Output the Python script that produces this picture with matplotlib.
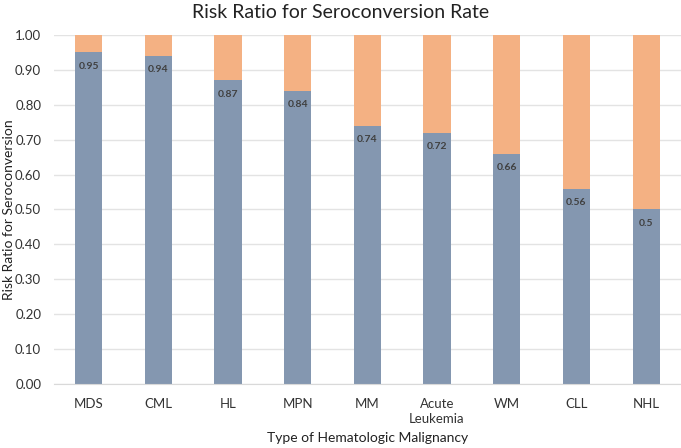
import matplotlib
matplotlib.use("Agg")
import matplotlib.pyplot as plt
from matplotlib.ticker import FormatStrFormatter, MultipleLocator

categories = ["MDS", "CML", "HL", "MPN", "MM", "Acute\nLeukemia", "WM", "CLL", "NHL"]
seroconversion = [0.95, 0.94, 0.87, 0.84, 0.74, 0.72, 0.66, 0.56, 0.5]
remainder = [round(1 - v, 2) for v in seroconversion]

plt.rcParams['font.family'] = ['Lato', 'DejaVu Sans']

fig = plt.figure(figsize=(6.81, 4.48), dpi=100)
ax = fig.add_axes([0.0788, 0.1429, 0.9212, 0.779])

x = list(range(len(categories)))
blue = "#8497B0"
orange = "#F4B183"
ax.bar(x, seroconversion, width=0.39, color=blue, zorder=3)
ax.bar(x, remainder, width=0.39, bottom=seroconversion, color=orange, zorder=3)

for xi, v in zip(x, seroconversion):
    ax.annotate(str(v), (xi, v), xytext=(0, -10), textcoords="offset points",
                ha="center", va="center", fontsize=7.5, fontweight="bold", color="#404040", zorder=4)

ax.set_xlim(-0.5, len(categories) - 0.5)
ax.set_ylim(0, 1.0)
ax.yaxis.set_major_locator(MultipleLocator(0.1))
ax.yaxis.set_major_formatter(FormatStrFormatter("%.2f"))
ax.grid(axis="y", color="#e3e3e3", linewidth=1, zorder=0)
ax.set_xticks(x)
ax.set_xticklabels(categories, fontsize=9.5, color="#333333", linespacing=1.35)
ax.tick_params(axis="y", labelsize=9.5, colors="#333333", length=0, pad=9)
ax.tick_params(axis="x", length=0, pad=10)
for s in ["top", "right", "left"]:
    ax.spines[s].set_visible(False)
ax.spines["bottom"].set_color("#d9d9d9")
ax.spines["bottom"].set_zorder(5)

fig.text(9 / 681, 0.532, "Risk Ratio for Seroconversion", rotation=90, ha="center", va="center",
         fontsize=10, color="#222222")
fig.text(0.54, 1 - 438 / 448, "Type of Hematologic Malignancy", ha="center", va="center",
         fontsize=10, color="#222222")
fig.text(0.5, 0.972, "Risk Ratio for Seroconversion Rate", ha="center", va="center",
         fontsize=14, color="#222222")

fig.savefig("out.png", dpi=100)
